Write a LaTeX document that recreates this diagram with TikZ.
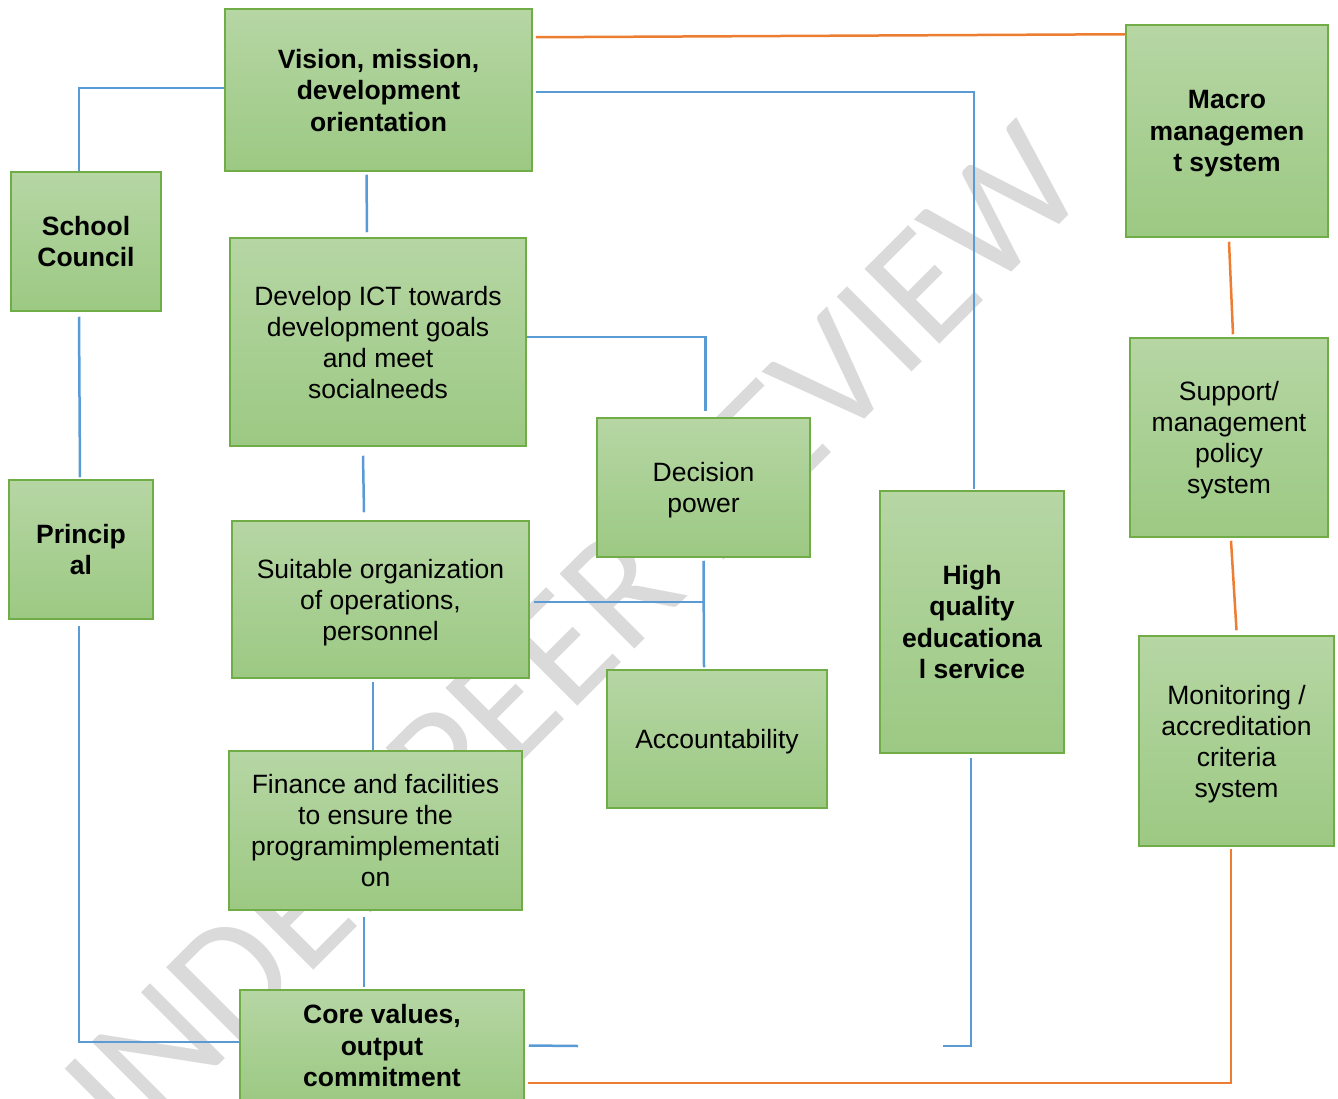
\documentclass[tikz,border=0pt]{standalone}
\usepackage{fontspec}
\setmainfont{Liberation Sans}
\newfontfamily\wmfont{Carlito}
\usetikzlibrary{calc}
\definecolor{boxtop}{RGB}{182,214,164}
\definecolor{boxbot}{RGB}{156,201,131}
\definecolor{boxline}{RGB}{112,173,71}
\definecolor{bluel}{RGB}{91,155,213}
\definecolor{orangel}{RGB}{237,125,49}
\definecolor{wmgray}{RGB}{218,218,218}
\begin{document}
\begin{tikzpicture}[x=1pt,y=-1pt,
  box/.style={draw=boxline, line width=1.5pt, top color=boxtop, bottom color=boxbot,
    align=center, inner sep=0pt, text depth=0pt, font=\fontsize{26.5}{31}\selectfont},
  bbox/.style={box, font=\fontsize{26.5}{31.5}\selectfont\bfseries},
  bl/.style={draw=bluel, line width=2.5pt},
  ol/.style={draw=orangel, line width=2.5pt},
  wm/.style={text=wmgray, inner sep=0pt, font=\wmfont\fontsize{165}{165}\selectfont}]
\useasboundingbox (0,0) rectangle (1338,1099);
% watermark
\node[wm, rotate=45, anchor=base] (wmark) at (588,696) {UNDER PEER REVIEW};
% boxes
\node[bbox, minimum width=307pt, minimum height=162pt] (vision) at (378.5,90) {Vision, mission,\\development\\orientation};
\node[bbox, minimum width=202pt, minimum height=212pt] (macro) at (1227,131) {Macro\\managemen\\t system};
\node[bbox, minimum width=150pt, minimum height=139pt] (council) at (86,241.5) {School\\Council};
\node[box, minimum width=296pt, minimum height=208pt] (develop) at (378,342) {Develop ICT towards\\development goals\\and meet\\socialneeds};
\node[box, minimum width=198pt, minimum height=199pt] (support) at (1229,437.5) {Support/\\management\\policy\\system};
\node[box, minimum width=213pt, minimum height=139pt] (decision) at (703.5,487.5) {Decision\\power};
\node[bbox, minimum width=144pt, minimum height=139pt] (principal) at (81,549.5) {Princip\\al};
\node[bbox, minimum width=184pt, minimum height=262pt] (high) at (972,622) {High\\quality\\educationa\\l service};
\node[box, minimum width=297pt, minimum height=157pt] (suitable) at (380.5,599.5) {Suitable organization\\of operations,\\personnel};
\node[box, minimum width=220pt, minimum height=138pt] (account) at (717,739) {Accountability};
\node[box, minimum width=195pt, minimum height=210pt] (monitor) at (1236.5,741) {Monitoring /\\accreditation\\criteria\\system};
\node[box, minimum width=293pt, minimum height=159pt] (finance) at (375.5,830.5) {Finance and facilities\\to ensure the\\programimplementati\\on};
\node[bbox, minimum width=284pt, minimum height=111pt] (core) at (382,1045.5) {Core values,\\output\\commitment};
% free ends
\coordinate (e1) at (943,1046);
\coordinate (e2) at (578,1046);
\coordinate (j1) at ($(suitable.east)+(4,2.5)$);
% blue connectors
\draw[bl] ([yshift=2pt]vision.west) -| ([xshift=-7pt]council.north);
\draw[bl] ([xshift=-7pt,yshift=-5pt]council.south) -- ([xshift=-1pt,yshift=2pt]principal.north);
\draw[bl] ([xshift=-2pt,yshift=-6pt]principal.south) |- ([yshift=3.5pt]core.west);
\draw[bl] ([xshift=-12pt,yshift=-3pt]vision.south) -- ([xshift=-11pt,yshift=5pt]develop.north);
\draw[bl] ([xshift=-15pt,yshift=-9pt]develop.south) -- ([xshift=-16.5pt,yshift=8pt]suitable.north);
\draw[bl] ([xshift=-7.5pt,yshift=-3pt]suitable.south) -- ([xshift=-2.5pt]finance.north);
\draw[bl] ([xshift=-11.5pt,yshift=-6pt]finance.south) -- ([xshift=-18pt,yshift=2pt]core.north);
\draw[bl] ([yshift=5pt]develop.east) -| ([xshift=2pt,yshift=6pt]decision.north);
\draw[bl] ([yshift=-3pt]decision.south) -- ([xshift=-13pt,yshift=2pt]account.north);
\draw[bl] (j1) -- (j1 -| decision.south);
\draw[bl] ([xshift=3pt,yshift=-2pt]vision.east) -| ([xshift=2pt,yshift=1pt]high.north);
\draw[bl] ([xshift=-1pt,yshift=-4pt]high.south) |- (e1);
\draw[bl] ([xshift=4pt]core.east) -- (e2);
% orange connectors
\draw[ol] ([xshift=3pt,yshift=-29pt]vision.north east) -- ([yshift=-10pt]macro.north west);
\draw[ol] ([xshift=2pt,yshift=-4pt]macro.south) -- ([xshift=4pt,yshift=3pt]support.north);
\draw[ol] ([xshift=2pt,yshift=-3pt]support.south) -- ([yshift=5pt]monitor.north);
\draw[ol] ([xshift=-5.5pt,yshift=-2pt]monitor.south) |- ([xshift=3pt,yshift=-37.5pt]core.east);
\end{tikzpicture}
\end{document}
